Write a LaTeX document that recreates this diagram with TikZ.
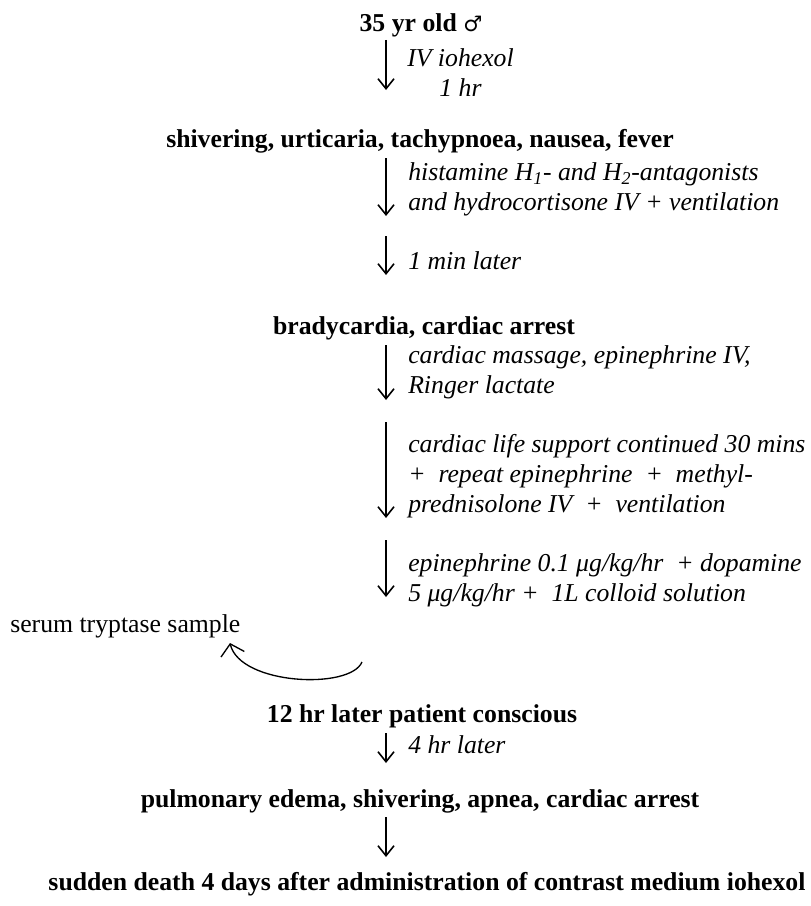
\documentclass[tikz,border=0pt]{standalone}
\usepackage{fontspec}
\setmainfont{Liberation Serif}
\newfontfamily\symfont{DejaVu Sans}
\usetikzlibrary{arrows.meta}
\newcommand{\blk}[3]{{\fontsize{19.3}{#1}\selectfont\begin{tabular}[t]{@{}#2@{}}#3\end{tabular}}}
\tikzset{
  mainline/.style={font=\fontsize{19.3}{22}\selectfont\bfseries, inner sep=0pt, anchor=base},
  lbl/.style={font=\fontsize{19.3}{22}\selectfont\itshape, inner sep=0pt, anchor=base west},
  plain/.style={font=\fontsize{19.3}{22}\selectfont, inner sep=0pt, anchor=base west},
  flow/.style={line width=1.2pt, -{Straight Barb[length=7.5pt,width=12pt]}},
  curvearrow/.style={line width=1pt, -{Straight Barb[length=8pt,width=18pt]}},
}
\begin{document}
\begin{tikzpicture}[x=0.75pt,y=-0.75pt]
\useasboundingbox (0,0) rectangle (810,906);
% main states
\node[mainline] (n1) at (421,32) {35 yr old {\fontsize{16}{18}\symfont\mdseries ♂}};
\node[mainline] (n2) at (420,147) {shivering, urticaria, tachypnoea, nausea, fever};
\node[mainline] (n3) at (424,334) {bradycardia, cardiac arrest};
\node[mainline] (n4) at (422,722) {12 hr later patient conscious};
\node[mainline] (n5) at (420,807) {pulmonary edema, shivering, apnea, cardiac arrest};
\node[mainline] (n6) at (427,890) {sudden death 4 days after administration of contrast medium iohexol};
% labels
\node[lbl] (l1) at (407,66) {\blk{22.5pt}{c}{IV iohexol\\1 hr}};
\node[lbl] (l2) at (408,180) {\blk{22.5pt}{l}{histamine H\textsubscript{1}- and H\textsubscript{2}-antagonists\\and hydrocortisone IV + ventilation}};
\node[lbl] (l3) at (408,269) {1 min later};
\node[lbl] (l4) at (408,363) {\blk{22.5pt}{l}{cardiac massage, epinephrine IV,\\Ringer lactate}};
\node[lbl] (l5) at (408,452) {\blk{22.5pt}{l}{cardiac life support continued 30 mins\\+\ \ repeat epinephrine\ \ +\ \ methyl-\\prednisolone IV\ \ +\ \ ventilation}};
\node[lbl] (l6) at (408,571) {\blk{22.5pt}{l}{epinephrine 0.1 μg/kg/hr\ \ + dopamine\\5 μg/kg/hr +\ \ 1L colloid solution}};
\node[lbl] (l7) at (408,753) {4 hr later};
\node[plain] (serum) at (10,632) {serum tryptase sample};
% arrow end points
\coordinate (a1s) at (386,40);  \coordinate (a1e) at (386,90);
\coordinate (a2s) at (386,158); \coordinate (a2e) at (386,216);
\coordinate (a3s) at (386,236); \coordinate (a3e) at (386,275);
\coordinate (a4s) at (386,345); \coordinate (a4e) at (386,400);
\coordinate (a5s) at (386,422); \coordinate (a5e) at (386,518);
\coordinate (a6s) at (386,540); \coordinate (a6e) at (386,597);
\coordinate (a7s) at (386,733); \coordinate (a7e) at (386,763);
\coordinate (a8s) at (386,817); \coordinate (a8e) at (386,857);
\coordinate (cs) at (362,662);  \coordinate (ce) at (230,643);
\draw[flow] (a1s) -- (a1e);
\draw[flow] (a2s) -- (a2e);
\draw[flow] (a3s) -- (a3e);
\draw[flow] (a4s) -- (a4e);
\draw[flow] (a5s) -- (a5e);
\draw[flow] (a6s) -- (a6e);
\draw[flow] (a7s) -- (a7e);
\draw[flow] (a8s) -- (a8e);
\draw[curvearrow] (cs) .. controls (350,690) and (240,685) .. (ce);
\end{tikzpicture}
\end{document}
